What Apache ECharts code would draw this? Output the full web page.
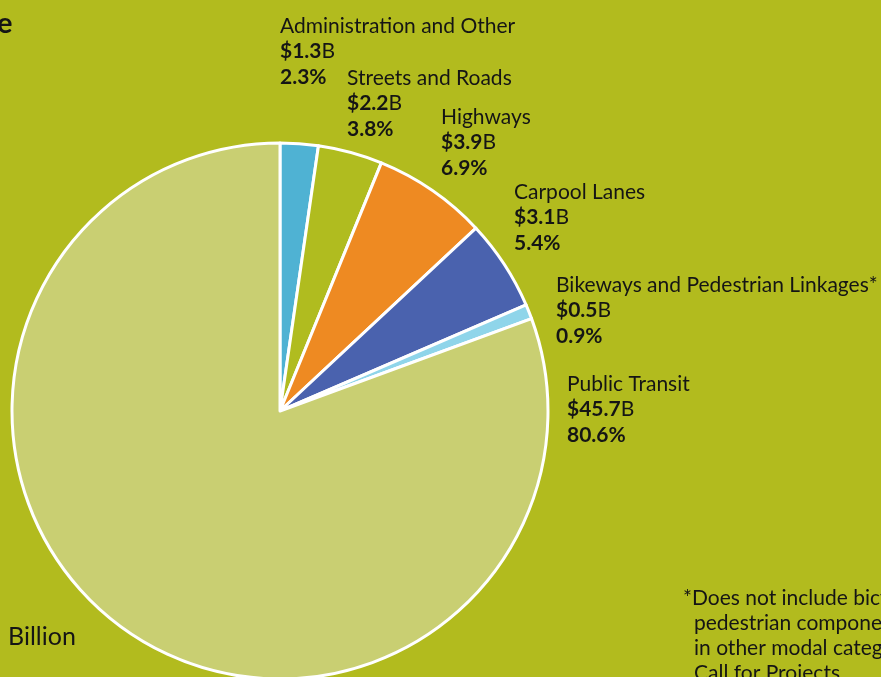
<!DOCTYPE html>
<html>
<head>
<meta charset="utf-8">
<script src="https://cdn.jsdelivr.net/npm/echarts@6/dist/echarts.min.js"></script>
<style>
  html, body { margin: 0; padding: 0; background: #B2BB1E; }
  #chart { width: 881px; height: 677px; }
</style>
</head>
<body>
<div id="chart"></div>
<script>
// Funding categories, amounts in billions of dollars, and their shares
const categories = [
  'Administration and Other',
  'Streets and Roads',
  'Highways',
  'Carpool Lanes',
  'Bikeways and Pedestrian Linkages*',
  'Public Transit'
];
const amounts = [1.3, 2.2, 3.9, 3.1, 0.5, 45.7];
const shares = ['2.3%', '3.8%', '6.9%', '5.4%', '0.9%', '80.6%'];
const sliceColors = ['#4FB2D3', '#B0BC1F', '#EE8A22', '#4A62AE', '#8FD5EA', '#C9CF72'];
const footnoteLines = [
  '*Does not include bicycle and',
  'pedestrian components included',
  'in other modal categories or',
  'Call for Projects.'
];

// Top-left corner of each category's label block
const labelAnchors = [
  [280, 13], [347, 65], [441, 104], [514, 179], [556, 272], [567, 371]
];

const FONT = 'Lato, "Open Sans", sans-serif';
const INK = '#151515';
const SIZE = 21;
const LINE = 25.5;

const chart = echarts.init(document.getElementById('chart'), null, { renderer: 'canvas' });

const data = categories.map((name, i) => ({
  name,
  value: amounts[i],
  itemStyle: { color: sliceColors[i] }
}));

const footnote = footnoteLines.map((line, i) => ({
  type: 'text',
  left: i === 0 ? 683 : 694,
  top: 588 + i * 25,
  style: { text: line, font: SIZE + 'px ' + FONT, fill: INK }
}));

chart.setOption({
  backgroundColor: '#B2BB1E',
  animation: false,
  graphic: [
    { type: 'text', left: -3, top: 9, style: { text: 'e', font: 'bold 29px ' + FONT, fill: INK } },
    { type: 'text', left: 8, top: 624, style: { text: 'Billion', font: '25px ' + FONT, fill: INK } }
  ].concat(footnote),
  series: [{
    type: 'pie',
    center: [280, 411],
    radius: 268,
    startAngle: 90,
    clockwise: true,
    avoidLabelOverlap: false,
    data,
    itemStyle: { borderColor: '#FFFFFF', borderWidth: 3 },
    labelLine: { show: false },
    label: {
      show: true,
      position: 'outside',
      formatter: p => `{n|${p.name}}\n{b|$${amounts[p.dataIndex]}}{r|B}\n{b|${shares[p.dataIndex]}}`,
      rich: {
        n: { fontFamily: FONT, fontSize: SIZE, color: INK, lineHeight: LINE },
        b: { fontFamily: FONT, fontSize: SIZE, fontWeight: 'bold', color: INK, lineHeight: LINE },
        r: { fontFamily: FONT, fontSize: SIZE, color: INK, lineHeight: LINE }
      }
    },
    labelLayout: p => ({
      x: labelAnchors[p.dataIndex][0],
      y: labelAnchors[p.dataIndex][1],
      align: 'left',
      verticalAlign: 'top'
    }),
    emphasis: { disabled: true }
  }]
});
</script>
</body>
</html>
